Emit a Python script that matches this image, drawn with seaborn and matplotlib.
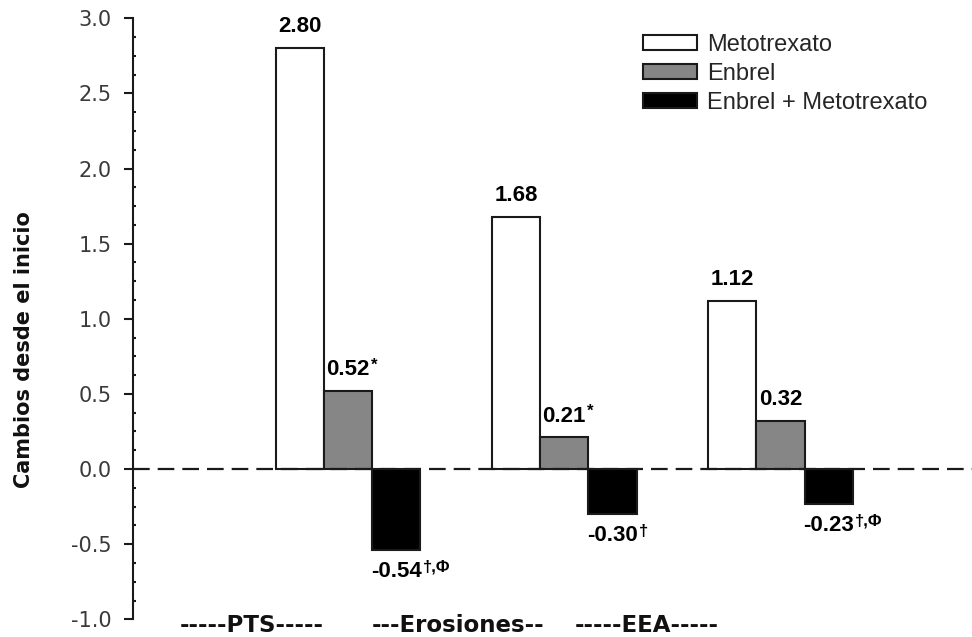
import matplotlib
matplotlib.use("Agg")
import matplotlib.pyplot as plt
import seaborn as sns
import pandas as pd
from matplotlib.patches import Patch
from matplotlib.ticker import MultipleLocator

# ---------------- data ----------------
groups = ["PTS", "Erosiones", "EEA"]
group_labels = ["-----PTS-----", "---Erosiones--", "-----EEA-----"]
treatments = ["Metotrexato", "Enbrel", "Enbrel + Metotrexato"]
metotrexato = [2.80, 1.68, 1.12]
enbrel = [0.52, 0.21, 0.32]
combo = [-0.54, -0.30, -0.23]
metotrexato_marks = ["", "", ""]
enbrel_marks = ["*", "*", ""]
combo_marks = ["\u2020,\u03a6", "\u2020", "\u2020,\u03a6"]
y_ticks = [-1.0, -0.5, 0.0, 0.5, 1.0, 1.5, 2.0, 2.5, 3.0]
y_label = "Cambios desde el inicio"

series = [metotrexato, enbrel, combo]
marks = [metotrexato_marks, enbrel_marks, combo_marks]
df = pd.DataFrame({
    "group": [g for _ in treatments for g in groups],
    "treatment": [t for t in treatments for _ in groups],
    "value": [v for s in series for v in s],
})

colors = ["#ffffff", "#868686", "#000000"]
edge = "#1a1a1a"

sns.set_style("white")
plt.rcParams["font.family"] = ["Liberation Sans", "DejaVu Sans"]

fig = plt.figure(figsize=(9.72, 6.37), dpi=100)
W, H = 972, 637
ax = fig.add_axes([133 / W, (H - 619.3) / H, 1 - 133 / W, (619.3 - 18.3) / H])

sns.barplot(data=df, x="group", y="value", hue="treatment",
            order=groups, hue_order=treatments, palette=colors,
            width=0.67, edgecolor=edge, linewidth=1.5, legend=False,
            errorbar=None, ax=ax, zorder=2)

ax.set_xlim(-0.994, 2.886)
ax.set_ylim(-1.0, 3.0)

# zero reference line
ax.axhline(0, color="#1a1a1a", lw=1.6, dashes=(7.5, 3.6), zorder=3)

# spines
for s in ["top", "right", "bottom"]:
    ax.spines[s].set_visible(False)
ax.spines["left"].set_linewidth(1.5)
ax.spines["left"].set_color("#1a1a1a")

# y ticks
ax.set_yticks(y_ticks)
ax.set_yticklabels([f"{v:.1f}" for v in y_ticks], family="DejaVu Sans",
                   fontsize=15, color="#3a3a3a")
ax.yaxis.set_minor_locator(MultipleLocator(0.125))
ax.tick_params(axis="y", which="major", direction="out", length=6.5,
               width=1.5, color="#1a1a1a", pad=9, left=True)
ax.tick_params(axis="y", which="minor", direction="in", length=2.5,
               width=1.5, color="#1a1a1a", left=True)

# category labels (offset from group centres as in the original)
label_offsets = [-0.444, -0.49, -0.617]
ax.set_xticks([i + o for i, o in enumerate(label_offsets)])
ax.set_xticklabels(group_labels, family="DejaVu Sans", fontweight="bold",
                   fontsize=16.5, color="#111111")
ax.tick_params(axis="x", length=0, pad=-3.5)
ax.set_xlabel("")

# y label
ax.set_ylabel(y_label, family="DejaVu Sans", fontweight="bold",
              fontsize=15, color="#111111")
ax.yaxis.set_label_coords((24 - 133) / (W - 133), 0.448)
ax.yaxis.label.set_verticalalignment("center")

# legend
handles = [Patch(facecolor=c, edgecolor=edge, linewidth=1.5, label=l)
           for c, l in zip(colors, treatments)]
ax.legend(handles=handles, loc="upper left",
          bbox_to_anchor=(643 / W, 1 - 34 / H), bbox_transform=fig.transFigure,
          frameon=False, fontsize=17, handlelength=2.3, handleheight=0.6,
          handletextpad=0.42, labelspacing=0.3, borderpad=0,
          borderaxespad=0)

# value labels
numbers = []
for cont, vals, mk in zip(ax.containers, series, marks):
    for bar, v, m in zip(cont, vals, mk):
        xc = bar.get_x() + bar.get_width() / 2
        if v >= 0:
            t = ax.annotate(f"{v:.2f}", xy=(xc, v), xytext=(0, 11.5),
                            textcoords="offset points", ha="center",
                            va="baseline", fontsize=16, fontweight="bold",
                            color="#000000", zorder=5)
        else:
            t = ax.annotate(f"{v:.2f}", xy=(xc, v), xytext=(0, -8),
                            textcoords="offset points", ha="center",
                            va="top", fontsize=16, fontweight="bold",
                            color="#000000", zorder=5)
        numbers.append((t, m))

fig.canvas.draw()
renderer = fig.canvas.get_renderer()
for t, m in numbers:
    if not m:
        continue
    bb = t.get_window_extent(renderer)
    top = bb.y0 + 22.5
    fig.text((bb.x1 + 1) / W, top / H, m, ha="left", va="top",
             fontsize=12, fontweight="bold", color="#000000")

fig.savefig("out.png", dpi=100)
